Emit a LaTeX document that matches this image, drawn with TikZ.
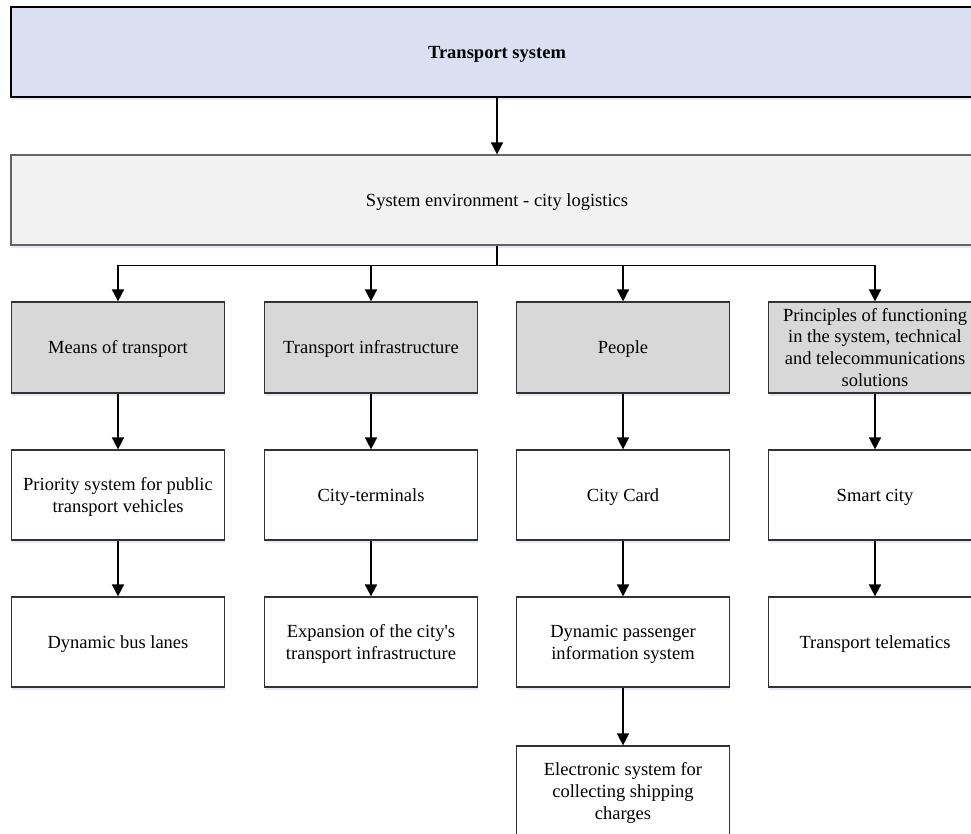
\documentclass[tikz,border=0pt]{standalone}
\usepackage{fontspec}
\setmainfont{Liberation Serif}
\usetikzlibrary{arrows.meta,shadows}
\definecolor{topfill}{RGB}{218,224,242}
\definecolor{envfill}{RGB}{242,242,242}
\definecolor{grayfill}{RGB}{216,216,216}
\definecolor{envdraw}{RGB}{100,100,100}
\definecolor{boxdraw}{RGB}{50,50,50}
\definecolor{shadowc}{RGB}{205,216,238}
\newcommand{\boxtxt}[1]{\raisebox{-2pt}[\height][\depth]{\begin{tabular}{@{}c@{}}#1\end{tabular}}}
\tikzset{
  base/.style={rectangle, inner sep=0pt, line width=1.2pt,
    font=\fontsize{18.5}{21.7}\selectfont,
    drop shadow={shadow xshift=0pt, shadow yshift=-3pt, fill=shadowc, opacity=0.5}},
  wide/.style={base, minimum width=972pt, minimum height=90pt},
  topbox/.style={wide, draw=black, fill=topfill, font=\fontsize{18.5}{21.7}\selectfont\bfseries},
  envbox/.style={wide, draw=envdraw, fill=envfill},
  catbox/.style={base, draw=boxdraw, fill=grayfill, minimum width=213pt, minimum height=91pt},
  itembox/.style={base, draw=boxdraw, fill=white, minimum width=213pt, minimum height=90pt},
  arr/.style={line width=1.6pt, -{Triangle[length=12pt,width=12pt]}},
}
\begin{document}
\begin{tikzpicture}[x=1pt,y=-1pt]
\useasboundingbox (0,0) rectangle (971,834);
\clip (0,0) rectangle (971,834);
\fill[white] (0,0) rectangle (971,834);
\node[topbox] (top) at (497,52) {\boxtxt{Transport system}};
\node[envbox] (env) at (497,200) {\boxtxt{System environment - city logistics}};
% row 1
\node[catbox] (c1) at (118,347.5) {\boxtxt{Means of transport}};
\node[catbox] (c2) at (371,347.5) {\boxtxt{Transport infrastructure}};
\node[catbox] (c3) at (623,347.5) {\boxtxt{People}};
\node[catbox] (c4) at (875,347.5) {\boxtxt{Principles of functioning\\in the system, technical\\and telecommunications\\solutions}};
% row 2
\node[itembox] (a1) at (118,495) {\boxtxt{Priority system for public\\transport vehicles}};
\node[itembox] (a2) at (371,495) {\boxtxt{City-terminals}};
\node[itembox] (a3) at (623,495) {\boxtxt{City Card}};
\node[itembox] (a4) at (875,495) {\boxtxt{Smart city}};
% row 3
\node[itembox] (b1) at (118,642) {\boxtxt{Dynamic bus lanes}};
\node[itembox] (b2) at (371,642) {\boxtxt{Expansion of the city\textquotesingle s\\transport infrastructure}};
\node[itembox] (b3) at (623,642) {\boxtxt{Dynamic passenger\\information system}};
\node[itembox] (b4) at (875,642) {\boxtxt{Transport telematics}};
% row 4
\node[itembox] (d3) at (623,791) {\boxtxt{Electronic system for\\collecting shipping\\charges}};
% connectors
\draw[arr] (top) -- (env);
\foreach \n in {c1,c2,c3,c4}{
  \draw[arr] (env.south) -- ++(0,20) -| (\n.north);
}
\draw[arr] (c1) -- (a1);
\draw[arr] (c2) -- (a2);
\draw[arr] (c3) -- (a3);
\draw[arr] (c4) -- (a4);
\draw[arr] (a1) -- (b1);
\draw[arr] (a2) -- (b2);
\draw[arr] (a3) -- (b3);
\draw[arr] (a4) -- (b4);
\draw[arr] (b3) -- (d3);
\end{tikzpicture}
\end{document}
